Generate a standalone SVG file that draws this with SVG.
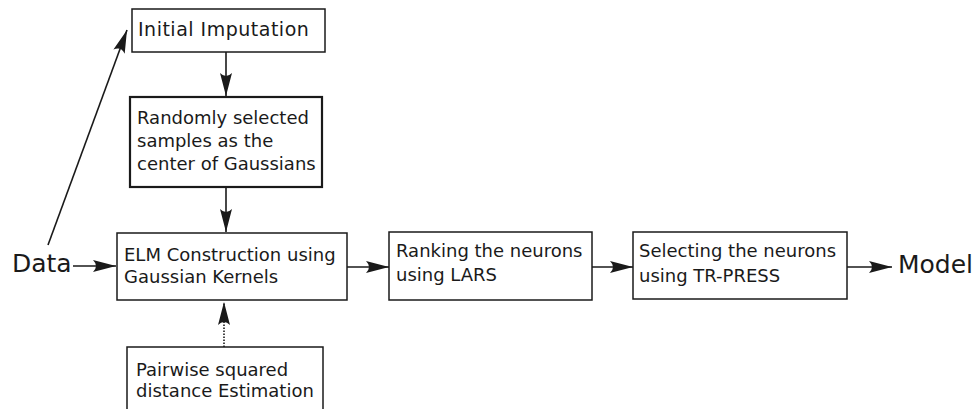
<svg xmlns="http://www.w3.org/2000/svg" width="976" height="409" viewBox="0 0 976 409">
<defs>
<style>
.box{fill:#fff;stroke:#1a1a1a;stroke-width:1.5}
.thick{stroke-width:2.2}
.t{font-family:"DejaVu Sans",sans-serif;font-size:18px;fill:#1a1a1a}
.sp{font-size:19px;letter-spacing:0.5px}
.big{font-family:"DejaVu Sans",sans-serif;font-size:25px;fill:#1a1a1a}
.c{fill:none;stroke:#1a1a1a;stroke-width:1.6}
.dot{stroke-dasharray:1.5 1.5}
</style>
<marker id="ah" viewBox="-25 -8 27 16" refX="0" refY="0" markerUnits="userSpaceOnUse" markerWidth="27" markerHeight="16" orient="auto">
<path d="M0,0 L-23,-6 Q-17,0 -23,6 Z" fill="#1a1a1a"/>
</marker>
</defs>
<rect width="976" height="409" fill="#fff"/>
<g id="connectors">
<line class="c" x1="48" y1="245" x2="127" y2="30" marker-end="url(#ah)"/>
<line class="c" x1="226" y1="52" x2="226" y2="96" marker-end="url(#ah)"/>
<line class="c" x1="226" y1="187" x2="226" y2="232" marker-end="url(#ah)"/>
<line class="c dot" x1="224" y1="347" x2="224" y2="302" marker-end="url(#ah)"/>
<line class="c" x1="73" y1="266" x2="116" y2="266" marker-end="url(#ah)"/>
<line class="c" x1="347" y1="267" x2="389" y2="267" marker-end="url(#ah)"/>
<line class="c" x1="592" y1="267" x2="633" y2="267" marker-end="url(#ah)"/>
<line class="c" x1="847" y1="267" x2="892" y2="267" marker-end="url(#ah)"/>
</g>
<g id="data"><text class="big" x="12" y="272">Data</text></g>
<g id="model"><text class="big" x="898" y="273">Model</text></g>
<g id="initial-imputation">
<rect class="box" x="132" y="9" width="193" height="43"/>
<text class="t sp" x="138" y="36">Initial Imputation</text>
</g>
<g id="random-samples">
<rect class="box thick" x="130" y="97" width="192" height="90"/>
<text class="t" x="137" y="124">Randomly selected</text>
<text class="t" x="137" y="147">samples as the</text>
<text class="t" x="137" y="170">center of Gaussians</text>
</g>
<g id="elm">
<rect class="box" x="117" y="233" width="230" height="67"/>
<text class="t" x="124" y="261">ELM Construction using</text>
<text class="t" x="124" y="283">Gaussian Kernels</text>
</g>
<g id="ranking">
<rect class="box" x="389" y="232" width="203" height="68"/>
<text class="t" x="396" y="257">Ranking the neurons</text>
<text class="t" x="396" y="281">using LARS</text>
</g>
<g id="selecting">
<rect class="box" x="633" y="232" width="214" height="67"/>
<text class="t" x="639" y="257">Selecting the neurons</text>
<text class="t" x="639" y="282">using TR-PRESS</text>
</g>
<g id="pairwise">
<rect class="box" x="127" y="347" width="196" height="80"/>
<text class="t" x="136" y="376">Pairwise squared</text>
<text class="t" x="136" y="397">distance Estimation</text>
</g>
</svg>
